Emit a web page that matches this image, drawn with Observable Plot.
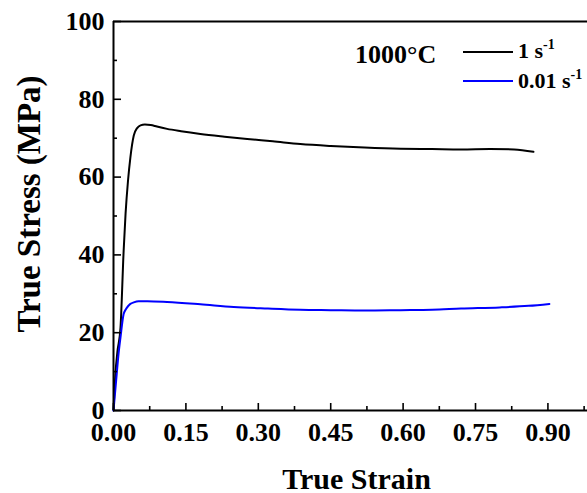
<!DOCTYPE html>
<html>
<head>
<meta charset="utf-8">
<script src="https://cdn.jsdelivr.net/npm/d3@7"></script>
<script src="https://cdn.jsdelivr.net/npm/@observablehq/plot@0.6"></script>
<style>
  html, body { margin: 0; padding: 0; background: #fff; }
  #wrap { position: relative; width: 587px; height: 493px; overflow: hidden; font-family: "Liberation Serif", "Times New Roman", serif; font-weight: bold; }
  #legend { position: absolute; left: 0; top: 0; width: 587px; height: 493px; pointer-events: none; }
</style>
</head>
<body>
<div id="wrap"></div>
<script>
// Series 1: 1 s^-1
const strain1 = [0, 0.004, 0.008, 0.0145, 0.021, 0.025, 0.03, 0.035, 0.042, 0.049, 0.056, 0.065, 0.077, 0.09, 0.111, 0.14, 0.18, 0.23, 0.277, 0.33, 0.387, 0.45, 0.52, 0.595, 0.66, 0.72, 0.78, 0.83, 0.87];
const stress1 = [0, 9.5, 15, 21.3, 41, 50.6, 59, 65.1, 70.7, 72.6, 73.3, 73.5, 73.4, 73.0, 72.4, 71.8, 71.1, 70.4, 69.8, 69.2, 68.5, 68.0, 67.6, 67.3, 67.2, 67.1, 67.2, 67.1, 66.5];
// Series 2: 0.01 s^-1
const strain2 = [0, 0.005, 0.01, 0.0145, 0.021, 0.025, 0.03, 0.035, 0.042, 0.052, 0.07, 0.111, 0.18, 0.249, 0.32, 0.387, 0.45, 0.52, 0.595, 0.66, 0.72, 0.80, 0.86, 0.903];
const stress2 = [0, 7, 14, 18.8, 24.8, 25.9, 26.8, 27.4, 27.8, 28.1, 28.1, 27.9, 27.3, 26.6, 26.2, 25.9, 25.8, 25.7, 25.8, 25.9, 26.2, 26.5, 26.9, 27.4];

const xMajor = [0, 0.15, 0.30, 0.45, 0.60, 0.75, 0.90];
const xMinor = [0.075, 0.225, 0.375, 0.525, 0.675, 0.825, 0.975];
const yMajor = [0, 20, 40, 60, 80, 100];
const yMinor = [10, 30, 50, 70, 90];

const seriesNames = ["1 s", "0.01 s"];
const seriesColors = ["#000000", "#0000ff"];

const data1 = strain1.map((x, i) => ({x, y: stress1[i]}));
const data2 = strain2.map((x, i) => ({x, y: stress2[i]}));

const chart = Plot.plot({
  width: 587,
  height: 493,
  marginLeft: 113,
  marginTop: 21,
  marginBottom: 83,
  marginRight: 0,
  x: {domain: [0, 0.982], label: null},
  y: {domain: [0, 100], label: null},
  style: {fontFamily: "'Liberation Serif', 'Times New Roman', serif", fontWeight: "bold", fontSize: "26px", color: "#000", background: "#fff"},
  marks: [
    Plot.line(data1, {x: "x", y: "y", stroke: seriesColors[0], strokeWidth: 2, curve: "monotone-x"}),
    Plot.line(data2, {x: "x", y: "y", stroke: seriesColors[1], strokeWidth: 2, curve: "monotone-x"}),
    Plot.ruleX([0], {strokeWidth: 2}),
    Plot.ruleY([0, 100], {strokeWidth: 2}),
    Plot.axisY({ticks: yMajor, tickSize: 8, dx: 8, tickPadding: 9, strokeWidth: 1.6, tickFormat: d => String(d), label: null, fontSize: 26}),
    Plot.axisY({ticks: yMinor, tickSize: 4, dx: 4, strokeWidth: 1.6, tickFormat: () => "", label: null}),
    Plot.axisX({ticks: xMajor, tickSize: 7, dy: -7, tickPadding: 12, strokeWidth: 1.6, tickFormat: d3.format(".2f"), label: null, fontSize: 26}),
    Plot.axisX({ticks: xMinor, tickSize: 4, dy: -4, strokeWidth: 1.6, tickFormat: () => "", label: null}),
    Plot.text(["True Strain"], {text: d => d, frameAnchor: "bottom", textAnchor: "middle", dx: 6, dy: 78, lineAnchor: "bottom", fontSize: 30, fontWeight: "bold"}),
    Plot.text(["True Stress (MPa)"], {text: d => d, frameAnchor: "left", textAnchor: "middle", rotate: -90, dx: -84, dy: -12, lineAnchor: "middle", fontSize: 33, fontWeight: "bold"})
  ]
});

const wrap = document.getElementById("wrap");
wrap.appendChild(chart);

// Legend overlay
const ns = "http://www.w3.org/2000/svg";
const leg = document.createElementNS(ns, "svg");
leg.setAttribute("id", "legend");
leg.setAttribute("width", 587);
leg.setAttribute("height", 493);
const g = d3.select(leg).style("font-family", "'Liberation Serif', 'Times New Roman', serif").style("font-weight", "bold");
g.append("text").attr("x", 355).attr("y", 63).attr("font-size", 26).text("1000°C");
const rows = [{y: 52, base: 58, label: seriesNames[0], color: seriesColors[0]}, {y: 81, base: 88, label: seriesNames[1], color: seriesColors[1]}];
rows.forEach(r => {
  g.append("line").attr("x1", 463).attr("x2", 513).attr("y1", r.y).attr("y2", r.y).attr("stroke", r.color).attr("stroke-width", 2);
  const t = g.append("text").attr("x", 518).attr("y", r.base).attr("font-size", 22);
  t.append("tspan").text(r.label);
  t.append("tspan").attr("dy", -9).attr("font-size", 14).text("-1");
});
wrap.appendChild(leg);
</script>
</body>
</html>
